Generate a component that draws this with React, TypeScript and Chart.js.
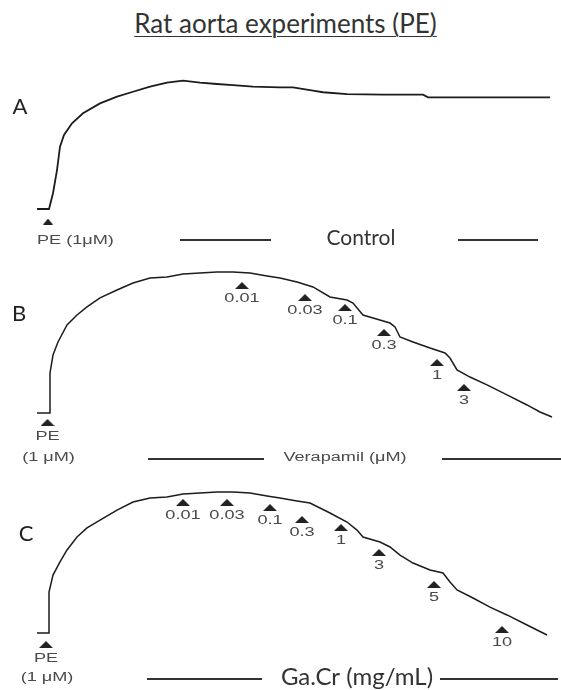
import React, { useEffect, useRef } from "react";
import { Chart, registerables } from "chart.js";

Chart.register(...registerables);

// Isometric tension recordings of rat aortic rings contracted with phenylephrine.
// Time in minutes from the start of each recording, tension in % of the PE plateau.

const controlTime = [0.7, 1.9, 2.3, 2.7, 3.0, 3.4, 4.2, 5.3, 7.0, 8.7, 10.3, 12.0, 13.7, 15.3, 17.0, 18.7, 20.3, 22.3, 25.0, 26.3, 28.3, 29.3, 31.7, 35.3, 39.3, 39.8, 52.0];
const controlTension = [0, 0, 12.2, 30.2, 48.3, 57.4, 66.4, 74.2, 81.9, 87.1, 90.9, 94.8, 97.9, 99.5, 97.9, 96.9, 96.1, 94.8, 94.3, 94.3, 91.7, 90.5, 89.1, 88.6, 88.6, 86.6, 86.6];

const verapamilTime = [0.7, 2.0, 2.0, 2.3, 2.8, 3.7, 4.7, 5.7, 7.0, 8.7, 10.3, 12.0, 13.7, 15.3, 17.0, 18.7, 20.3, 22.0, 23.7, 25.0, 26.7, 28.3, 30.0, 31.7, 32.3, 33.3, 34.3, 36.0, 36.5, 37.0, 38.3, 40.0, 41.5, 42.0, 42.7, 44.0, 45.7, 47.7, 49.7, 51.0, 52.2];
const verapamilTension = [0, 0, 28.4, 41.1, 50.4, 62.4, 69.5, 75.2, 81.6, 87.2, 92.2, 95.7, 96.5, 98.6, 99.3, 100, 100, 99.3, 97.2, 95.7, 92.9, 89.4, 82.3, 80.1, 78.0, 69.5, 67.4, 63.8, 61.0, 53.9, 50.4, 46.1, 42.6, 39.0, 30.5, 25.5, 19.9, 12.8, 5.7, 0.7, -2.8];

const gaCrTime = [0.7, 1.9, 1.9, 2.3, 3.0, 3.7, 4.7, 5.7, 7.0, 8.7, 10.3, 12.0, 13.7, 15.3, 17.0, 18.7, 20.3, 22.0, 23.7, 25.0, 26.7, 28.0, 30.0, 31.7, 32.7, 33.3, 35.0, 36.0, 37.0, 38.3, 40.0, 41.3, 42.0, 42.7, 44.3, 46.0, 47.7, 49.7, 51.7];
const gaCrTension = [0, 0, 29.1, 41.1, 50.4, 58.9, 68.1, 74.5, 80.1, 87.2, 92.9, 95.7, 96.5, 98.6, 99.3, 100, 100, 99.3, 97.2, 95.7, 93.6, 92.2, 85.1, 78.7, 73.0, 68.1, 64.5, 61.0, 55.3, 49.6, 44.7, 42.6, 36.2, 30.5, 24.8, 18.4, 12.8, 5.7, -1.4];

// Cumulative additions: time of addition and the level of the marker under the trace
const verapamilDoseTime = [21.2, 27.5, 31.5, 35.4, 40.7, 43.4];
const verapamilDoseLevel = [90.4, 81.9, 74.8, 57.1, 35.8, 18.1];
const verapamilDoseLabels = ["0.01", "0.03", "0.1", "0.3", "1", "3"];

const gaCrDoseTime = [15.3, 19.7, 24.0, 27.2, 31.1, 34.9, 40.4, 47.2];
const gaCrDoseLevel = [92.6, 92.6, 89.0, 80.5, 74.8, 57.1, 34.4, 2.5];
const gaCrDoseLabels = ["0.01", "0.03", "0.1", "0.3", "1", "3", "5", "10"];

// Phenylephrine (1 µM) addition marker for panels A, B, C
const peTime = [1.8, 1.75, 1.6];
const peLevel = [-9.7, -6.7, -8.2];

// tension axis range (% of plateau) and recording length (min)
const Y_MIN = -15;
const Y_MAX = 100;
const T_MAX = 53;

const TRACE_COLOR = "#1c1c1c";
const LABEL_COLOR = "#4a4a4a";
const CAPTION_COLOR = "#333333";
const SCAN_FONT = "12.5px 'Liberation Sans', Arial, sans-serif";
const CAPTION_FONT = "'Lato', 'Open Sans', sans-serif";

type Panel = {
  letter: string;
  time: number[];
  tension: number[];
  doseTime: number[];
  doseLevel: number[];
  doseLabels: string[];
  pe: number;
  // layout (page pixels)
  top: number;
  height: number;
  plateauY: number;
  baselineY: number;
  lineWidth: number;
  letterPos: [number, number];
  triSize: [number, number];
  captionY: number;
  captionText: string;
  captionX: number;
  captionStyle: "scan" | "caption";
  captionSize: number;
  rules: [number, number][];
  peInline: boolean;
};

const panels: Panel[] = [
  {
    letter: "A",
    time: controlTime,
    tension: controlTension,
    doseTime: [],
    doseLevel: [],
    doseLabels: [],
    pe: 0,
    top: 45,
    height: 205,
    plateauY: 80,
    baselineY: 209,
    lineWidth: 1.8,
    letterPos: [20, 107],
    triSize: [10, 6],
    captionY: 240,
    captionText: "Control",
    captionX: 361,
    captionStyle: "caption",
    captionSize: 21,
    rules: [[180, 271], [458, 538]],
    peInline: true,
  },
  {
    letter: "B",
    time: verapamilTime,
    tension: verapamilTension,
    doseTime: verapamilDoseTime,
    doseLevel: verapamilDoseLevel,
    doseLabels: verapamilDoseLabels,
    pe: 1,
    top: 250,
    height: 215,
    plateauY: 272,
    baselineY: 413,
    lineWidth: 1.5,
    letterPos: [19, 314],
    triSize: [14, 7],
    captionY: 459,
    captionText: "Verapamil (\u03bcM)",
    captionX: 345,
    captionStyle: "scan",
    captionSize: 12.5,
    rules: [[148, 264], [442, 561]],
    peInline: false,
  },
  {
    letter: "C",
    time: gaCrTime,
    tension: gaCrTension,
    doseTime: gaCrDoseTime,
    doseLevel: gaCrDoseLevel,
    doseLabels: gaCrDoseLabels,
    pe: 2,
    top: 465,
    height: 225,
    plateauY: 492,
    baselineY: 633,
    lineWidth: 1.5,
    letterPos: [26, 534],
    triSize: [14, 7],
    captionY: 679,
    captionText: "Ga.Cr (mg/mL)",
    captionX: 357,
    captionStyle: "caption",
    captionSize: 24,
    rules: [[147, 262], [440, 558]],
    peInline: false,
  },
];

function triangleSprite(w: number, h: number): HTMLCanvasElement {
  const c = document.createElement("canvas");
  c.width = w;
  c.height = h;
  const g = c.getContext("2d")!;
  g.fillStyle = "#222";
  g.beginPath();
  g.moveTo(w / 2, 0);
  g.lineTo(w, h);
  g.lineTo(0, h);
  g.closePath();
  g.fill();
  return c;
}

// The recorder's labels are printed in a wide, light sans face
function scanText(ctx: CanvasRenderingContext2D, text: string, x: number, y: number, align: CanvasTextAlign) {
  ctx.save();
  ctx.translate(x, y);
  ctx.scale(1.45, 1);
  ctx.font = SCAN_FONT;
  ctx.fillStyle = LABEL_COLOR;
  ctx.textAlign = align;
  ctx.textBaseline = "middle";
  ctx.fillText(text, 0, 0);
  ctx.restore();
}

function annotations(panel: Panel) {
  return {
    id: "traceAnnotations",
    afterDatasetsDraw(chart: Chart) {
      const ctx = chart.ctx;
      const top = panel.top;
      ctx.save();

      ctx.fillStyle = "#222";
      ctx.font = `22px ${CAPTION_FONT}`;
      ctx.textAlign = "center";
      ctx.textBaseline = "middle";
      ctx.fillText(panel.letter, panel.letterPos[0], panel.letterPos[1] - top);

      const doses = chart.getDatasetMeta(1).data;
      doses.forEach((pt, i) => {
        scanText(ctx, panel.doseLabels[i], pt.x, pt.y + 13, "center");
      });

      const pe = chart.getDatasetMeta(2).data[0];
      const captionY = panel.captionY - top;
      if (pe) {
        if (panel.peInline) {
          scanText(ctx, "PE (1\u03bcM)", pe.x - 11, captionY + 1, "left");
        } else {
          scanText(ctx, "PE", pe.x, pe.y + 14, "center");
          scanText(ctx, "(1 \u03bcM)", pe.x + 1, captionY - 1, "center");
        }
      }

      ctx.strokeStyle = CAPTION_COLOR;
      ctx.lineWidth = 2;
      panel.rules.forEach(([a, b]) => {
        ctx.beginPath();
        ctx.moveTo(a, captionY);
        ctx.lineTo(b, captionY);
        ctx.stroke();
      });

      if (panel.captionStyle === "scan") {
        scanText(ctx, panel.captionText, panel.captionX, captionY - 1, "center");
      } else {
        ctx.font = `${panel.captionSize}px ${CAPTION_FONT}`;
        ctx.fillStyle = CAPTION_COLOR;
        ctx.textAlign = "center";
        ctx.textBaseline = "middle";
        ctx.fillText(panel.captionText, panel.captionX, captionY - 2);
      }
      ctx.restore();
    },
  };
}

function TracePanel({ panel }: { panel: Panel }) {
  const ref = useRef<HTMLCanvasElement>(null);

  useEffect(() => {
    const canvas = ref.current;
    if (!canvas) return;
    const trace = panel.time.map((t, i) => ({ x: t, y: panel.tension[i] }));
    const doses = panel.doseTime.map((t, i) => ({ x: t, y: panel.doseLevel[i] }));
    const pe = [{ x: peTime[panel.pe], y: peLevel[panel.pe] }];
    const sprite = triangleSprite(panel.triSize[0], panel.triSize[1]);

    // plot area: plateau (100 %) at plateauY, zero tension at baselineY
    const pxPerUnit = (panel.baselineY - panel.plateauY) / 100;
    const areaBottom = panel.baselineY - Y_MIN * pxPerUnit;
    const padTop = panel.plateauY - panel.top;
    const padBottom = panel.top + panel.height - areaBottom;

    const chart = new Chart(canvas, {
      type: "line",
      data: {
        datasets: [
          {
            data: trace,
            borderColor: TRACE_COLOR,
            borderWidth: panel.lineWidth,
            pointRadius: 0,
            tension: 0,
            clip: false,
          },
          {
            data: doses,
            showLine: false,
            pointStyle: sprite,
            pointRadius: 6,
            clip: false,
          },
          {
            data: pe,
            showLine: false,
            pointStyle: sprite,
            pointRadius: 6,
            clip: false,
          },
        ],
      },
      options: {
        animation: false,
        responsive: false,
        events: [],
        layout: {
          autoPadding: false,
          padding: { left: 30, right: 1, top: padTop, bottom: padBottom },
        },
        plugins: {
          legend: { display: false },
          tooltip: { enabled: false },
        },
        scales: {
          x: { type: "linear", min: 0, max: T_MAX, display: false },
          y: { type: "linear", min: Y_MIN, max: Y_MAX, display: false },
        },
      },
      plugins: [annotations(panel)],
    });
    return () => chart.destroy();
  }, [panel]);

  return (
    <canvas
      ref={ref}
      width={561}
      height={panel.height}
      style={{ position: "absolute", left: 0, top: panel.top, width: 561, height: panel.height }}
    />
  );
}

export default function App() {
  return (
    <div
      style={{
        position: "absolute",
        left: 0,
        top: 0,
        width: 561,
        height: 690,
        background: "#ffffff",
        overflow: "hidden",
      }}
    >
      <div
        style={{
          position: "absolute",
          left: 5,
          top: 8,
          width: 561,
          textAlign: "center",
          fontFamily: CAPTION_FONT,
          fontSize: 26,
          lineHeight: "30px",
          color: CAPTION_COLOR,
          textDecoration: "underline",
          textUnderlineOffset: "3px",
          textDecorationThickness: "1px",
        }}
      >
        Rat aorta experiments (PE)
      </div>
      {panels.map((p) => (
        <TracePanel key={p.letter} panel={p} />
      ))}
    </div>
  );
}
